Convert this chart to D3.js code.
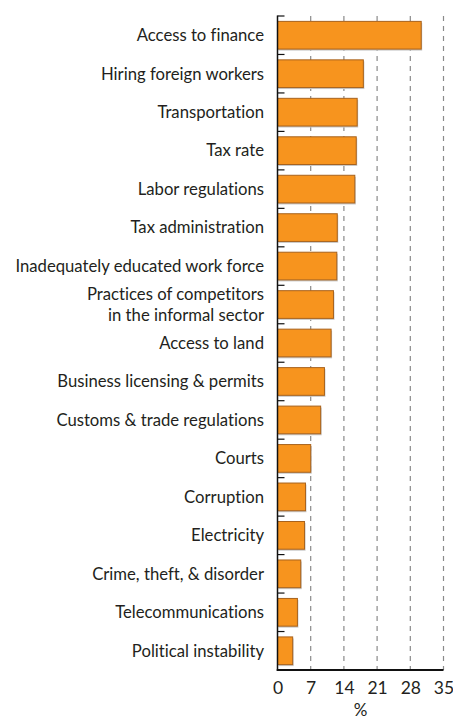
<!DOCTYPE html>
<html><head><meta charset="utf-8">
<script src="https://cdn.jsdelivr.net/npm/d3@7"></script>
<style>body{margin:0;background:#fff}svg{display:block}text{font-variant-ligatures:none;font-feature-settings:"liga" 0}</style>
</head><body>
<script>
const categories = [
  "Access to finance","Hiring foreign workers","Transportation","Tax rate","Labor regulations",
  "Tax administration","Inadequately educated work force","Practices of competitors\nin the informal sector",
  "Access to land","Business licensing & permits","Customs & trade regulations","Courts","Corruption",
  "Electricity","Crime, theft, & disorder","Telecommunications","Political instability"
];
const values = [30.3, 18.1, 16.8, 16.6, 16.3, 12.6, 12.5, 11.8, 11.3, 9.9, 9.1, 7.0, 5.9, 5.7, 4.9, 4.2, 3.2];
const tickValues = [0, 7, 14, 21, 28, 35];
const axisTitle = "%";

const W = 453, H = 719;
const svg = d3.select("body").append("svg").attr("width", W).attr("height", H);
const x = d3.scaleLinear().domain([0, 35]).range([277.5, 443.5]);
const y = d3.scaleBand().domain(categories).range([16, 670]).paddingInner(0.28).paddingOuter(0.14);
const font = "Lato, 'Open Sans', sans-serif";

// gridlines
svg.append("g").selectAll("line").data(tickValues.filter(d => d > 0)).join("line")
  .attr("x1", d => x(d)).attr("x2", d => x(d)).attr("y1", 16).attr("y2", 670)
  .attr("stroke", "#8a8a8a").attr("stroke-width", 1.2).attr("stroke-dasharray", "5,5");

// bars
const bars = svg.append("g");
bars.selectAll("rect.sh").data(values).join("rect").attr("class", "sh")
  .attr("x", x(0) + 1).attr("y", (d, i) => y(categories[i]) + 1.5)
  .attr("width", d => x(d) - x(0)).attr("height", y.bandwidth())
  .attr("fill", "#c8c8c8");
bars.selectAll("rect.b").data(values).join("rect").attr("class", "b")
  .attr("x", x(0)).attr("y", (d, i) => y(categories[i]))
  .attr("width", d => x(d) - x(0)).attr("height", y.bandwidth())
  .attr("fill", "#f7941e").attr("stroke", "#a8621c").attr("stroke-width", 1);

// category labels
const labels = svg.append("g").attr("font-family", font).attr("font-size", 16.7).attr("fill", "#231f20").attr("text-anchor", "end");
categories.forEach(c => {
  const lines = c.split("\n");
  const cy = y(c) + y.bandwidth() / 2;
  const lh = 21;
  lines.forEach((ln, j) => {
    labels.append("text").attr("x", 264)
      .attr("y", cy + (j - (lines.length - 1) / 2) * lh).attr("dy", "0.35em").text(ln);
  });
});

// band boundary ticks on left axis
const step = y.step();
const bounds = d3.range(categories.length + 1).map(i => 16 + i * step);
svg.append("g").selectAll("line").data(bounds).join("line")
  .attr("x1", x(0)).attr("x2", x(0) + 7).attr("y1", d => d).attr("y2", d => d)
  .attr("stroke", "#111").attr("stroke-width", 1.2);

// axes lines
svg.append("line").attr("x1", x(0)).attr("x2", x(0)).attr("y1", 15.5).attr("y2", 671)
  .attr("stroke", "#111").attr("stroke-width", 1.5);
svg.append("line").attr("x1", x(0) - 0.75).attr("x2", x(35)).attr("y1", 670).attr("y2", 670)
  .attr("stroke", "#111").attr("stroke-width", 2);

// bottom tick labels
const xAxis = d3.axisBottom(x).tickValues(tickValues).tickSize(0).tickPadding(12);
const ga = svg.append("g").attr("transform", "translate(0,670)").call(xAxis);
ga.select(".domain").remove();
ga.selectAll("text").attr("font-family", font).attr("font-size", 17.5).attr("fill", "#231f20");

svg.append("text").attr("x", (x(0) + x(35)) / 2).attr("y", 716)
  .attr("text-anchor", "middle").attr("font-family", font).attr("font-size", 17).attr("fill", "#231f20")
  .text(axisTitle);
</script>
</body></html>
